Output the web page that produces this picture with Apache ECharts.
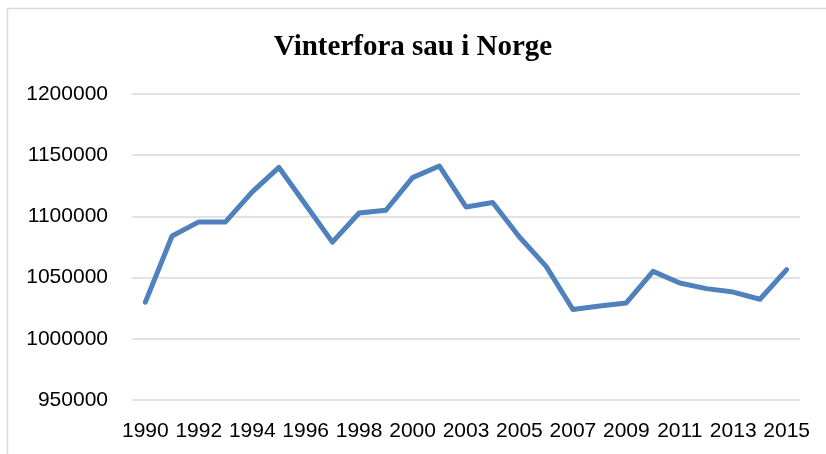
<!DOCTYPE html>
<html lang="no">

<head>
    <meta charset="UTF-8">
    <script src="https://cdn.jsdelivr.net/npm/echarts@6/dist/echarts.min.js"></script>
    <title>Vinterfora sau i Norge</title>
    <style>
        html, body { margin: 0; padding: 0; background: #fff; }
    </style>
</head>

<body>
    <div id="main" style="width: 826px;height: 454px;"></div>

    <script>
        // year labels (2002 is missing in the source table)
        var years = ['1990', '1991', '1992', '1993', '1994', '1995', '1996', '1997', '1998', '1999',
            '2000', '2001', '2003', '2004', '2005', '2006', '2007', '2008', '2009', '2010',
            '2011', '2012', '2013', '2014', '2015'];
        // winter-fed sheep
        var sheep = [1030000, 1084000, 1095500, 1095500, 1120000, 1140000, 1109500, 1079000, 1102800, 1105000,
            1131700, 1141200, 1107700, 1111300, 1083200, 1059200, 1023900, 1026800, 1029300, 1055100,
            1045600, 1041000, 1038200, 1032300, 1056500];
        var yMin = 950000;
        var yMax = 1200000;
        var yStep = 50000;

        var chartDom = document.getElementById('main');
        var myChart = echarts.init(chartDom);
        var option = {
            animation: false,
            title: {
                text: 'Vinterfora sau i Norge',
                left: 'center',
                top: 28,
                textStyle: {
                    fontFamily: 'Liberation Serif',
                    fontWeight: 'bold',
                    fontSize: 29,
                    color: '#000'
                }
            },
            // frame around the chart area (cut off on the right and bottom)
            graphic: [{
                type: 'rect',
                shape: { x: 7.5, y: 8.5, width: 840, height: 460 },
                style: { fill: 'none', stroke: '#d9d9d9', lineWidth: 1.5 }
            }],
            grid: {
                left: 132,
                right: 26,
                top: 94,
                bottom: 54
            },
            xAxis: {
                type: 'category',
                data: years,
                boundaryGap: true,
                axisLine: { show: false },
                axisTick: { show: false },
                axisLabel: {
                    interval: 1,
                    margin: 21,
                    fontFamily: 'Liberation Sans',
                    fontSize: 21,
                    color: '#000'
                }
            },
            yAxis: {
                type: 'value',
                min: yMin,
                max: yMax,
                interval: yStep,
                axisLine: { show: false },
                axisTick: { show: false },
                axisLabel: {
                    margin: 24,
                    fontFamily: 'Liberation Sans',
                    fontSize: 21,
                    color: '#000',
                    formatter: function (v) { return String(v); }
                },
                splitLine: {
                    lineStyle: { color: '#d9d9d9', width: 1.5 }
                }
            },
            series: [{
                name: 'Vinterfora sau',
                type: 'line',
                data: sheep,
                symbol: 'none',
                lineStyle: {
                    color: '#4f81bd',
                    width: 5,
                    cap: 'round',
                    join: 'round'
                }
            }]
        };
        myChart.setOption(option);
    </script>
</body>

</html>
